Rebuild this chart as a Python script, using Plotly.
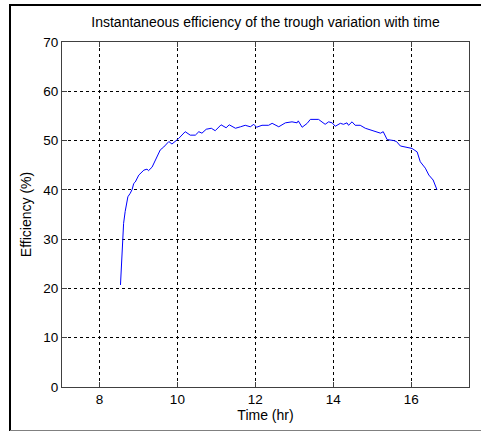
import plotly.graph_objects as go

time_hr = [8.54, 8.56, 8.60, 8.62, 8.66, 8.71, 8.73, 8.79, 8.84, 8.88, 8.92, 9.01, 9.05,
           9.14, 9.22, 9.26, 9.35, 9.44, 9.56, 9.65, 9.78, 9.86, 9.95, 10.03, 10.20,
           10.33, 10.46, 10.55, 10.63, 10.74, 10.87, 10.97, 11.12, 11.25, 11.33, 11.40,
           11.49, 11.62, 11.74, 11.87, 11.96, 12.03, 12.17, 12.34, 12.43, 12.60, 12.77,
           12.94, 13.07, 13.10, 13.20, 13.33, 13.41, 13.62, 13.71, 13.79, 13.88, 13.97,
           14.05, 14.18, 14.26, 14.35, 14.39, 14.48, 14.56, 14.69, 14.82, 14.99, 15.12,
           15.21, 15.28, 15.33, 15.38, 15.55, 15.62, 15.72, 15.89, 16.02, 16.15, 16.23,
           16.36, 16.45, 16.56, 16.66]
efficiency = [20.7, 24.1, 29.8, 33.2, 35.6, 37.9, 38.6, 39.3, 40.1, 41.3, 41.6, 43.0, 43.3,
              44.0, 44.2, 43.9, 44.6, 46.2, 48.1, 48.7, 49.8, 49.3, 49.8, 50.4, 51.8,
              51.1, 51.1, 51.8, 51.5, 52.3, 52.5, 52.0, 53.2, 52.6, 53.2, 52.9,
              52.5, 52.8, 53.1, 52.8, 53.3, 52.7, 53.1, 53.1, 53.5, 52.8, 53.6,
              53.8, 53.6, 54.0, 52.7, 53.5, 54.3, 54.3, 53.8, 53.3, 53.8, 53.6,
              52.9, 53.5, 53.3, 53.6, 53.1, 53.8, 53.1, 53.1, 52.5, 52.1, 51.8,
              51.5, 51.8, 51.1, 50.2, 50.0, 49.8, 48.9, 48.6, 48.4, 47.7, 45.7,
              44.4, 43.0, 42.0, 40.0]
x_ticks = [8, 10, 12, 14, 16]
y_ticks = [0, 10, 20, 30, 40, 50, 60, 70]

W, H = 481, 432
L, R, T, B = 62, 469, 42, 387

fig = go.Figure()
fig.add_trace(go.Scatter(x=time_hr, y=efficiency, mode="lines",
                         line=dict(color="#0000ff", width=1), showlegend=False))

family = "Liberation Sans, Arial, sans-serif"
tick_font = dict(family=family, size=13.5, color="#000000")
label_font = dict(family=family, size=14, color="#000000")
axis_common = dict(
    showline=True, linecolor="#404040", linewidth=1, mirror="allticks",
    ticks="inside", ticklen=5, tickcolor="#404040",
    showgrid=True, gridcolor="#000000", gridwidth=1, griddash="3px,3px",
    zeroline=False, tickfont=tick_font,
)
fig.update_xaxes(range=[7.04, 17.48], tickvals=x_ticks, **axis_common,
                 title=dict(text="Time (hr)", font=label_font, standoff=2))
fig.update_yaxes(range=[0, 70], tickvals=y_ticks, **axis_common,
                 title=dict(text="Efficiency (%)", font=label_font, standoff=8))


def px(x):
    return (x - L) / (R - L)


def py(y):
    return (B - y) / (B - T)


fig.update_layout(
    width=W, height=H,
    margin=dict(l=L, r=W - R, t=T, b=H - B, autoexpand=False),
    paper_bgcolor="#ffffff", plot_bgcolor="#ffffff",
    font=tick_font,
    title=dict(text="Instantaneous efficiency of the trough variation with time",
               x=0.5, xref="paper", y=1 - 22 / H, yref="container",
               xanchor="center", yanchor="middle", font=label_font),
    shapes=[
        dict(type="line", xref="paper", yref="paper", x0=px(10), x1=px(10),
             y0=py(4), y1=py(431), line=dict(color="#000000", width=2)),
        dict(type="line", xref="paper", yref="paper", x0=px(9), x1=px(481),
             y0=py(5), y1=py(5), line=dict(color="#000000", width=2)),
        dict(type="line", xref="paper", yref="paper", x0=px(10), x1=px(481),
             y0=py(430.5), y1=py(430.5), line=dict(color="#808080", width=1)),
    ],
)
fig.write_html("out.html", config={"displayModeBar": False},
               post_script="document.body.style.margin='0';document.body.style.overflow='hidden';")
